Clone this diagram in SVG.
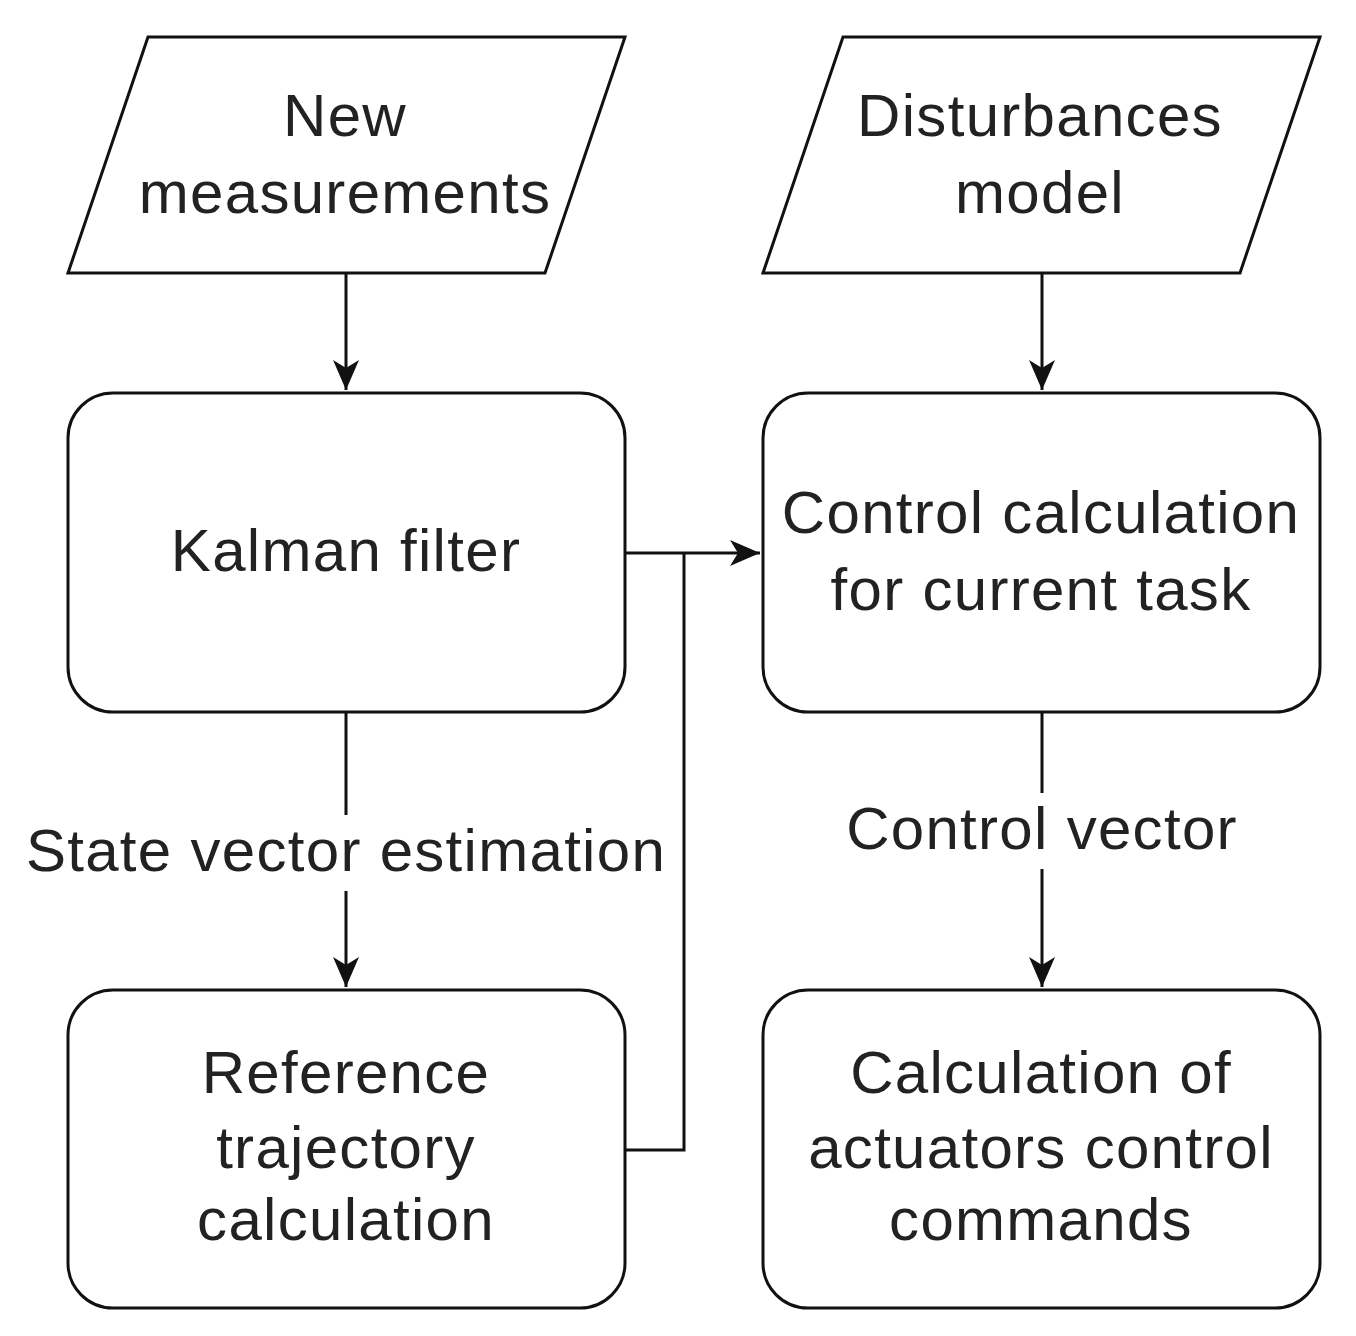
<svg xmlns="http://www.w3.org/2000/svg" width="1356" height="1336" viewBox="0 0 1356 1336">
<defs>
<style>
.s{fill:#fff;stroke:#111;stroke-width:3}
.t{font-family:"Liberation Sans",Arial,sans-serif;font-size:60px;letter-spacing:1.3px;fill:#222;text-anchor:middle;dominant-baseline:middle}
.c{fill:none;stroke:#111;stroke-width:3}
</style>
<marker id="b" viewBox="0 0 30 30" refX="30" refY="15" markerWidth="30" markerHeight="30" markerUnits="userSpaceOnUse" orient="auto">
<path d="M0,2 L30,15 L0,28 L8,15 Z" fill="#111"/>
</marker>
</defs>
<rect width="1356" height="1336" fill="#fff"/>
<g id="connectors">
<path class="c" d="M346,273 V390" marker-end="url(#b)"/>
<path class="c" d="M1042,273 V390" marker-end="url(#b)"/>
<path class="c" d="M625,553 H760" marker-end="url(#b)"/>
<path class="c" d="M625,1150 H684 V553"/>
<path class="c" d="M346,712 V987" marker-end="url(#b)"/>
<path class="c" d="M1042,712 V987" marker-end="url(#b)"/>
<rect x="22" y="815" width="648" height="76" fill="#fff"/>
<text class="t" x="346" y="855">State vector estimation</text>
<rect x="840" y="793" width="404" height="76" fill="#fff"/>
<text class="t" x="1042" y="833">Control vector</text>
</g>
<g id="new-measurements">
<polygon class="s" points="68,273 148,37 625,37 545,273"/>
<text class="t" x="345" y="120">New</text>
<text class="t" x="345" y="197">measurements</text>
</g>
<g id="disturbances-model">
<polygon class="s" points="763,273 843,37 1320,37 1240,273"/>
<text class="t" x="1040" y="120">Disturbances</text>
<text class="t" x="1040" y="197">model</text>
</g>
<g id="kalman">
<rect class="s" x="68" y="393" width="557" height="319" rx="45"/>
<text class="t" x="346" y="555">Kalman filter</text>
</g>
<g id="control-calc">
<rect class="s" x="763" y="393" width="557" height="319" rx="45"/>
<text class="t" x="1041" y="517">Control calculation</text>
<text class="t" x="1041" y="594">for current task</text>
</g>
<g id="reference">
<rect class="s" x="68" y="990" width="557" height="318" rx="45"/>
<text class="t" x="346" y="1077">Reference</text>
<text class="t" x="346" y="1152">trajectory</text>
<text class="t" x="346" y="1224">calculation</text>
</g>
<g id="actuators">
<rect class="s" x="763" y="990" width="557" height="318" rx="45"/>
<text class="t" x="1041" y="1077">Calculation of</text>
<text class="t" x="1041" y="1152">actuators control</text>
<text class="t" x="1041" y="1224">commands</text>
</g>
</svg>
